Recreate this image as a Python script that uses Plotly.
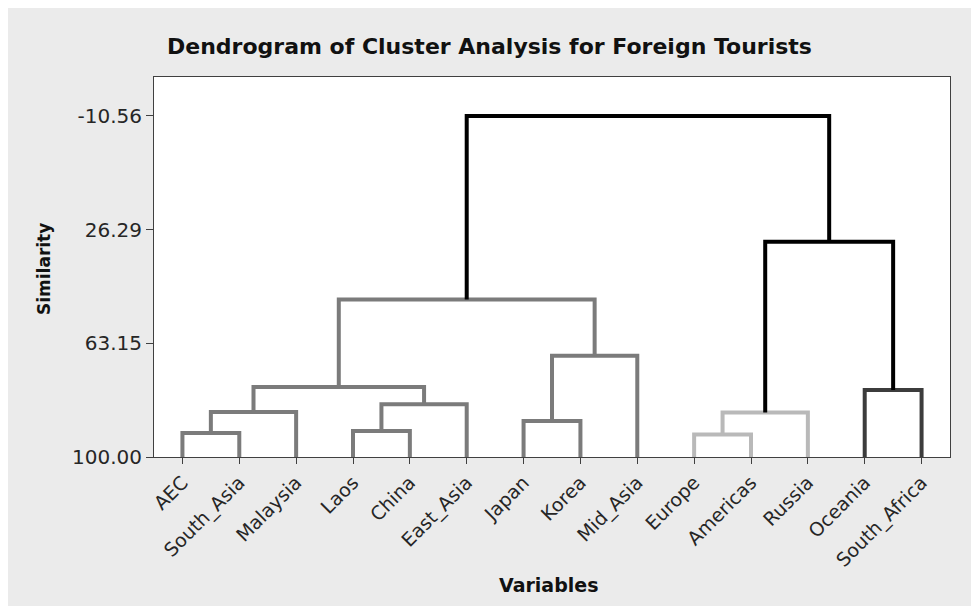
import plotly.graph_objects as go

# ---------------- data ----------------
leaves = ["AEC", "South_Asia", "Malaysia", "Laos", "China", "East_Asia", "Japan",
          "Korea", "Mid_Asia", "Europe", "Americas", "Russia", "Oceania", "South_Africa"]
leaf_cluster = [1, 1, 1, 1, 1, 1, 1, 1, 1, 2, 2, 2, 3, 3]

# linkage: merge k creates node id len(leaves)+k
merge_left = [0, 3, 9, 6, 14, 16, 15, 12, 18, 17, 22, 19, 24]
merge_right = [1, 4, 10, 7, 2, 11, 5, 13, 20, 8, 23, 21, 25]
merge_similarity = [92.2, 91.6, 92.7, 88.3, 85.4, 85.6, 82.9, 78.3, 77.3, 67.2, 48.9, 30.2, -10.56]

y_tick_values = [-10.56, 26.29, 63.15, 100.00]
leaf_similarity = 100.0

# ---------------- style ----------------
cluster_colors = {0: "#000000", 1: "#7b7b7b", 2: "#b9b9b9", 3: "#3c3c3c"}
OFF = 8                      # page body margin of the html page
W, H = 979 - OFF, 606 - OFF
ML, MR, MT, MB = 154 - OFF, 29, 77 - OFF, 149
BG = "#ebebeb"

# ---------------- build dendrogram geometry ----------------
n = len(leaves)
pos = [i + 1 for i in range(n)]
height = [leaf_similarity] * n
clus = list(leaf_cluster)
segs = {}
for a, b, s in zip(merge_left, merge_right, merge_similarity):
    c = clus[a] if clus[a] == clus[b] else 0
    xs = [pos[a], pos[a], pos[b], pos[b], None]
    ys = [height[a], s, s, height[b], None]
    sx, sy = segs.setdefault(c, ([], []))
    sx.extend(xs)
    sy.extend(ys)
    pos.append((pos[a] + pos[b]) / 2)
    height.append(s)
    clus.append(c)

fig = go.Figure()
for c in [1, 2, 3, 0]:
    if c in segs:
        fig.add_trace(go.Scatter(x=segs[c][0], y=segs[c][1], mode="lines",
                                 line=dict(color=cluster_colors[c], width=4),
                                 hoverinfo="skip", showlegend=False))

pw, ph = W - ML - MR, H - MT - MB
def px_x(p):  # page pixel -> paper fraction
    return (p - OFF - ML) / pw
def px_y(p):
    return (H - MB - (p - OFF)) / ph

fig.update_layout(
    width=W, height=H,
    margin=dict(l=ML, r=MR, t=MT, b=MB, pad=0),
    paper_bgcolor=BG, plot_bgcolor="white",
    font=dict(family="DejaVu Sans", color="#262626"),
    showlegend=False,
    xaxis=dict(range=[0.5, n + 0.5], tickvals=list(range(1, n + 1)), ticktext=leaves,
               tickangle=-45, ticks="outside", ticklen=6, tickwidth=1, tickcolor="#404040",
               showline=True, mirror=True, linecolor="#404040", linewidth=1,
               showgrid=False, zeroline=False, tickfont=dict(size=19, color="#262626")),
    yaxis=dict(range=[100, -23.2], tickvals=y_tick_values,
               ticktext=[f"{v:.2f}" for v in y_tick_values],
               ticks="outside", ticklen=7, tickwidth=1, tickcolor="#404040",
               showline=True, mirror=True, linecolor="#404040", linewidth=1,
               showgrid=False, zeroline=False, tickfont=dict(size=20, color="#262626")),
    annotations=[
        dict(text="<b>Dendrogram of Cluster Analysis for Foreign Tourists</b>",
             xref="paper", yref="paper", x=px_x(489), y=px_y(47),
             xanchor="center", yanchor="middle", showarrow=False,
             font=dict(family="DejaVu Sans", size=22, color="#111111")),
        dict(text="<b>Similarity</b>", xref="paper", yref="paper",
             x=px_x(44), y=px_y(269), xanchor="center", yanchor="middle",
             textangle=-90, showarrow=False,
             font=dict(family="DejaVu Sans", size=17, color="#111111")),
        dict(text="<b>Variables</b>", xref="paper", yref="paper",
             x=px_x(549), y=px_y(585), xanchor="center", yanchor="middle",
             showarrow=False, font=dict(family="DejaVu Sans", size=19, color="#111111")),
    ],
)

fig.write_html("out.html")
